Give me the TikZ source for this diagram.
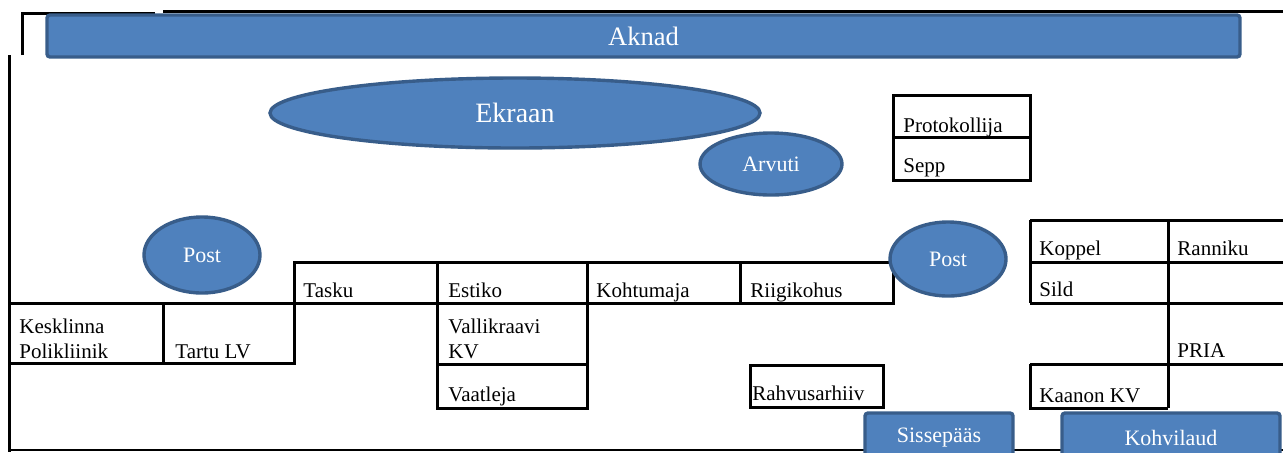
\documentclass[tikz,border=0pt]{standalone}
\usepackage{fontspec}
\setmainfont{Liberation Serif}
\usetikzlibrary{shapes.geometric,positioning}
\definecolor{officeblue}{HTML}{4F81BD}
\definecolor{officeline}{HTML}{385D8A}

\begin{document}
\begin{tikzpicture}[x=0.5pt,y=-0.5pt,
  wall/.style={line width=1.5pt},
  blueshape/.style={fill=officeblue,draw=officeline,line width=1.7pt,text=white,inner sep=0pt},
  bubble/.style={blueshape,ellipse,font=\fontsize{11}{13}\selectfont},
  plate/.style={blueshape,rectangle,rounded corners=1.5pt,font=\fontsize{11}{13}\selectfont},
  room/.style={anchor=base west,inner sep=0pt,align=left,font=\fontsize{10.5}{12.5}\selectfont}]
%
\clip (0,0) rectangle (1283,452);
%
% outer walls
  \draw[wall] (22,55) -- (22,13) -- (155,13);
  \draw[wall] (163,11) -- (1283,11);
  \draw[wall] (9,55) -- (9,452);
  \draw[line width=0.6pt] (9,450) -- (1283,450);
%
% rooms, left and middle
  \draw[wall] (9,303) rectangle (294,363);
  \draw[wall] (163,303) -- (163,363);
  \draw[wall] (294,262) rectangle (893,303);
  \foreach \x in {437,587,740}
    \draw[wall] (\x,262) -- (\x,303);
  \draw[wall] (294,303) -- (294,363);
  \draw[wall] (437,303) rectangle (587,408);
  \draw[wall] (437,364) -- (587,364);
  \draw[wall] (750,365) rectangle (883,407);
  \draw[wall] (893,95) rectangle (1030,180);
  \draw[wall] (893,137) -- (1030,137);
%
% rooms, right
  \foreach \y in {220,262,303,364}
    \draw[wall] (1030,\y) -- (1283,\y);
  \draw[wall] (1030,220) -- (1030,303);
  \draw[wall] (1168,220) -- (1168,408);
  \draw[wall] (1030,364) -- (1030,408) -- (1168,408);
%
% blue furniture
  \node[plate,minimum width=596.5pt,minimum height=21pt,font=\fontsize{13.3}{15}\selectfont] (aknad) at (643.5,36) {Aknad};
  \node[bubble,minimum width=245pt,minimum height=35pt,font=\fontsize{14}{16}\selectfont] (ekraan) at (515,113) {Ekraan};
  \node[bubble,minimum width=71pt,minimum height=31pt] (arvuti) at (771,164) {Arvuti};
  \node[bubble,minimum width=58pt,minimum height=38pt] (postA) at (202,255) {Post};
  \node[bubble,minimum width=58pt,minimum height=37pt] (postB) at (948,259) {Post};
  \node[plate,minimum width=74pt,minimum height=25pt] (sissepaas) at (939,438) {Sissepääs};
  \node[plate,minimum width=109pt,minimum height=25pt] (kohvilaud) at (1171,438) {Kohvilaud};
%
% room names
  \node[room] (kesklinna) at (19,358) {Kesklinna\\Polikliinik};
  \node[room] (tartulv) at (175,358) {Tartu LV};
  \node[room] (tasku) at (303,297) {Tasku};
  \node[room] (estiko) at (448,297) {Estiko};
  \node[room] (kohtumaja) at (596,297) {Kohtumaja};
  \node[room] (riigikohus) at (750,297) {Riigikohus};
  \node[room] (vallikraavi) at (448,358) {Vallikraavi\\KV};
  \node[room] (vaatleja) at (448,401) {Vaatleja};
  \node[room] (rahvusarhiiv) at (752,400) {Rahvusarhiiv};
  \node[room] (protokollija) at (903,132) {Protokollija};
  \node[room] (sepp) at (903,172) {Sepp};
  \node[room] (koppel) at (1039,255) {Koppel};
  \node[room] (ranniku) at (1177,255) {Ranniku};
  \node[room] (sild) at (1039,296) {Sild};
  \node[room] (pria) at (1177,357) {PRIA};
  \node[room] (kaanon) at (1039,402) {Kaanon KV};
\end{tikzpicture}
\end{document}
